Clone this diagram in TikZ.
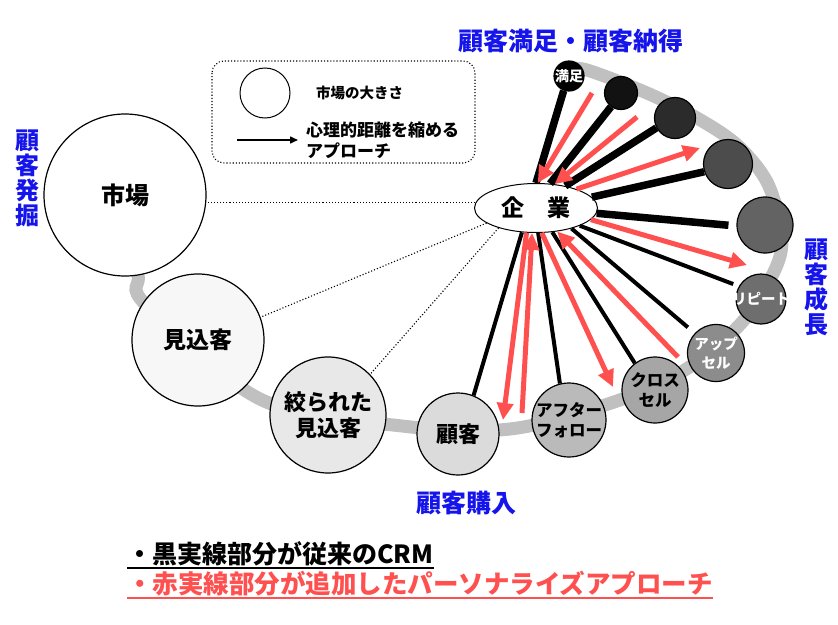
\documentclass[tikz,border=0pt]{standalone}
\usepackage{fontspec}
\setmainfont{Noto Sans CJK JP}
\usetikzlibrary{arrows.meta,backgrounds,shapes.geometric}

\definecolor{crmred}{RGB}{255,80,80}
\definecolor{stageblue}{RGB}{20,20,235}
\definecolor{trackgray}{RGB}{192,192,192}

\newcommand{\jpsize}[2]{\bfseries\fontsize{#1}{#2}\selectfont}

\begin{document}
\begin{tikzpicture}[%
    x=1pt, y=-1pt,
    >={Triangle[length=17pt,width=16pt]},
    stage/.style={circle, draw, line width=1.2pt, inner sep=-10pt, align=center},
    dot/.style={stage, inner sep=0pt},
    crm/.style={line width=7.5pt},
    crmthin/.style={line width=4pt},
    push/.style={draw=crmred, line width=5pt, ->},
    link/.style={dotted, line width=1.1pt},
    heading/.style={text=stageblue, font=\jpsize{25}{25}, align=center}
    ]

    \useasboundingbox (0,0) rectangle (838,624);

    \node[stage, minimum size=162pt, fill=white, font=\jpsize{24}{26}] (shijo) at (125,195) {市場};
    \node[stage, minimum size=132pt, fill=black!3, font=\jpsize{23}{25}] (mikomi) at (198,340) {見込客};
    \node[stage, minimum size=116pt, fill=black!9, font=\jpsize{22}{26}] (shibora) at (328,415) {絞られた\\見込客};
    \node[stage, minimum size=82pt, fill=black!14, font=\jpsize{22}{24}] (kokyaku) at (458,434) {顧客};
    \node[stage, minimum size=74pt, fill=black!27, font=\jpsize{16.5}{20}] (after) at (569,420) {アフター\\フォロー};
    \node[stage, minimum size=66pt, fill=black!35, font=\jpsize{16.5}{20}] (cross) at (655,390) {クロス\\セル};
    \node[stage, minimum size=57pt, fill=black!45, text=white, font=\jpsize{14.5}{19}] (upsell) at (716,353) {アップ\\セル};
    \node[stage, minimum size=50pt, fill=black!57, text=white, font=\jpsize{14.5}{15}] (repeat) at (761,299) {リピート};
    \node[dot, minimum size=56pt, fill=black!61] (big) at (765,225) {};
    \node[dot, minimum size=49pt, fill=black!70] (c10) at (728,164) {};
    \node[dot, minimum size=41pt, fill=black!83] (c11) at (675,118) {};
    \node[dot, minimum size=33pt, fill=black!93] (c12) at (621,93) {};
    \node[stage, minimum size=30pt, fill=black, text=white, font=\jpsize{14}{15}] (manzoku) at (569,76) {満足};

    \begin{scope}[on background layer]
    \draw[trackgray, line width=13pt] plot[smooth, tension=0.55] coordinates {(126,230) (138,275) (146,305) (262,400) (402,426) (510,429) (614,402) (688,368) (744,320) (777,265) (781,230) (767,182) (737,145) (697,118) (647,93) (587,70) (570,70)};
    \end{scope}

    \node[ellipse, draw, line width=1pt, fill=white, minimum width=123pt, minimum height=49pt, inner sep=0pt, font=\jpsize{23}{25}] (kigyo) at (536,208) {企　業};

    \draw[link] (kigyo.175) -- (kigyo.175 -| shijo.east);
    \draw[link] (kigyo.197) -- (mikomi.20);
    \draw[link] (kigyo.208) -- (shibora.44);

    \draw[crm] (kigyo.90) -- (manzoku.250);
    \draw[crm] (kigyo.60) -- (c12.234);
    \draw[crm] (kigyo.37) -- (c11.208);
    \draw[crm] (kigyo.11) -- (c10.198);
    \draw[crm, shorten >=8pt] (kigyo.355) -- (big.182);
    \draw[crmthin, shorten >=6pt] (kigyo.338) -- (repeat.150);
    \draw[crmthin, shorten >=9pt] (kigyo.330) -- (upsell.137);
    \draw[crmthin] (kigyo.304) -- (cross.127);
    \draw[crmthin] (kigyo.275) -- (after.104);
    \draw[crmthin] (kigyo.240) -- (kokyaku.68);

    \draw[push] ([shift={(23,17)}]manzoku.center) -- (kigyo.86);
    \draw[push] ([shift={(16,24)}]c12.center) -- (kigyo.52);
    \draw[push] (kigyo.25) -- ([shift={(-28,-16)}]c10.center);
    \draw[push] (kigyo.348) -- ([shift={(-14,-34)}]repeat.center);
    \draw[push] ([shift={(-38,4)}]upsell.center) -- (kigyo.312);
    \draw[push] (kigyo.283) -- ([shift={(-42,-3)}]cross.center);
    \draw[push] ([shift={(-47,-7)}]after.center) -- (kigyo.261);
    \draw[push] (kigyo.249) -- ([shift={(45,-14)}]kokyaku.center);

    \draw[link, rounded corners=12pt] (212,61) rectangle (475,163);
    \node[circle, draw, line width=1pt, minimum size=50pt, inner sep=0pt] (legsize) at (265,93) {};
    \node[anchor=west, inner sep=0pt, font=\jpsize{14.5}{16}] (legsizetext) at (316,93) {市場の大きさ};
    \coordinate (legfrom) at (237,140);
    \coordinate (legto) at (298,140);
    \draw[line width=1.5pt, -{Triangle[length=8pt,width=7pt]}] (legfrom) -- (legto);
    \node[anchor=west, inner sep=0pt, align=left, font=\jpsize{17}{21}] (legarrowtext) at (306,140) {心理的距離を縮める\\アプローチ};

    \node[heading] (satisfy) at (571,41) {顧客満足・顧客納得};
    \node[heading, font=\jpsize{24}{25}] (discover) at (28,178) {顧\\客\\発\\掘};
    \node[heading, font=\jpsize{24}{25}] (grow) at (816,287) {顧\\客\\成\\長};
    \node[heading] (purchase) at (466,503) {顧客購入};

    \node[anchor=base west, inner sep=0pt, font=\jpsize{25}{25}] (oldcrm) at (127,563) {・黒実線部分が従来のCRM};
    \draw[line width=1.5pt] ([yshift=-5pt]oldcrm.base west) -- ([yshift=-5pt]oldcrm.base east);
    \node[anchor=base west, inner sep=0pt, text=crmred, font=\jpsize{25.5}{26}] (newcrm) at (127,593) {・赤実線部分が追加したパーソナライズアプローチ};
    \draw[crmred, line width=1.5pt] ([yshift=-5pt]newcrm.base west) -- ([yshift=-5pt]newcrm.base east);

    \end{tikzpicture}
\end{document}
